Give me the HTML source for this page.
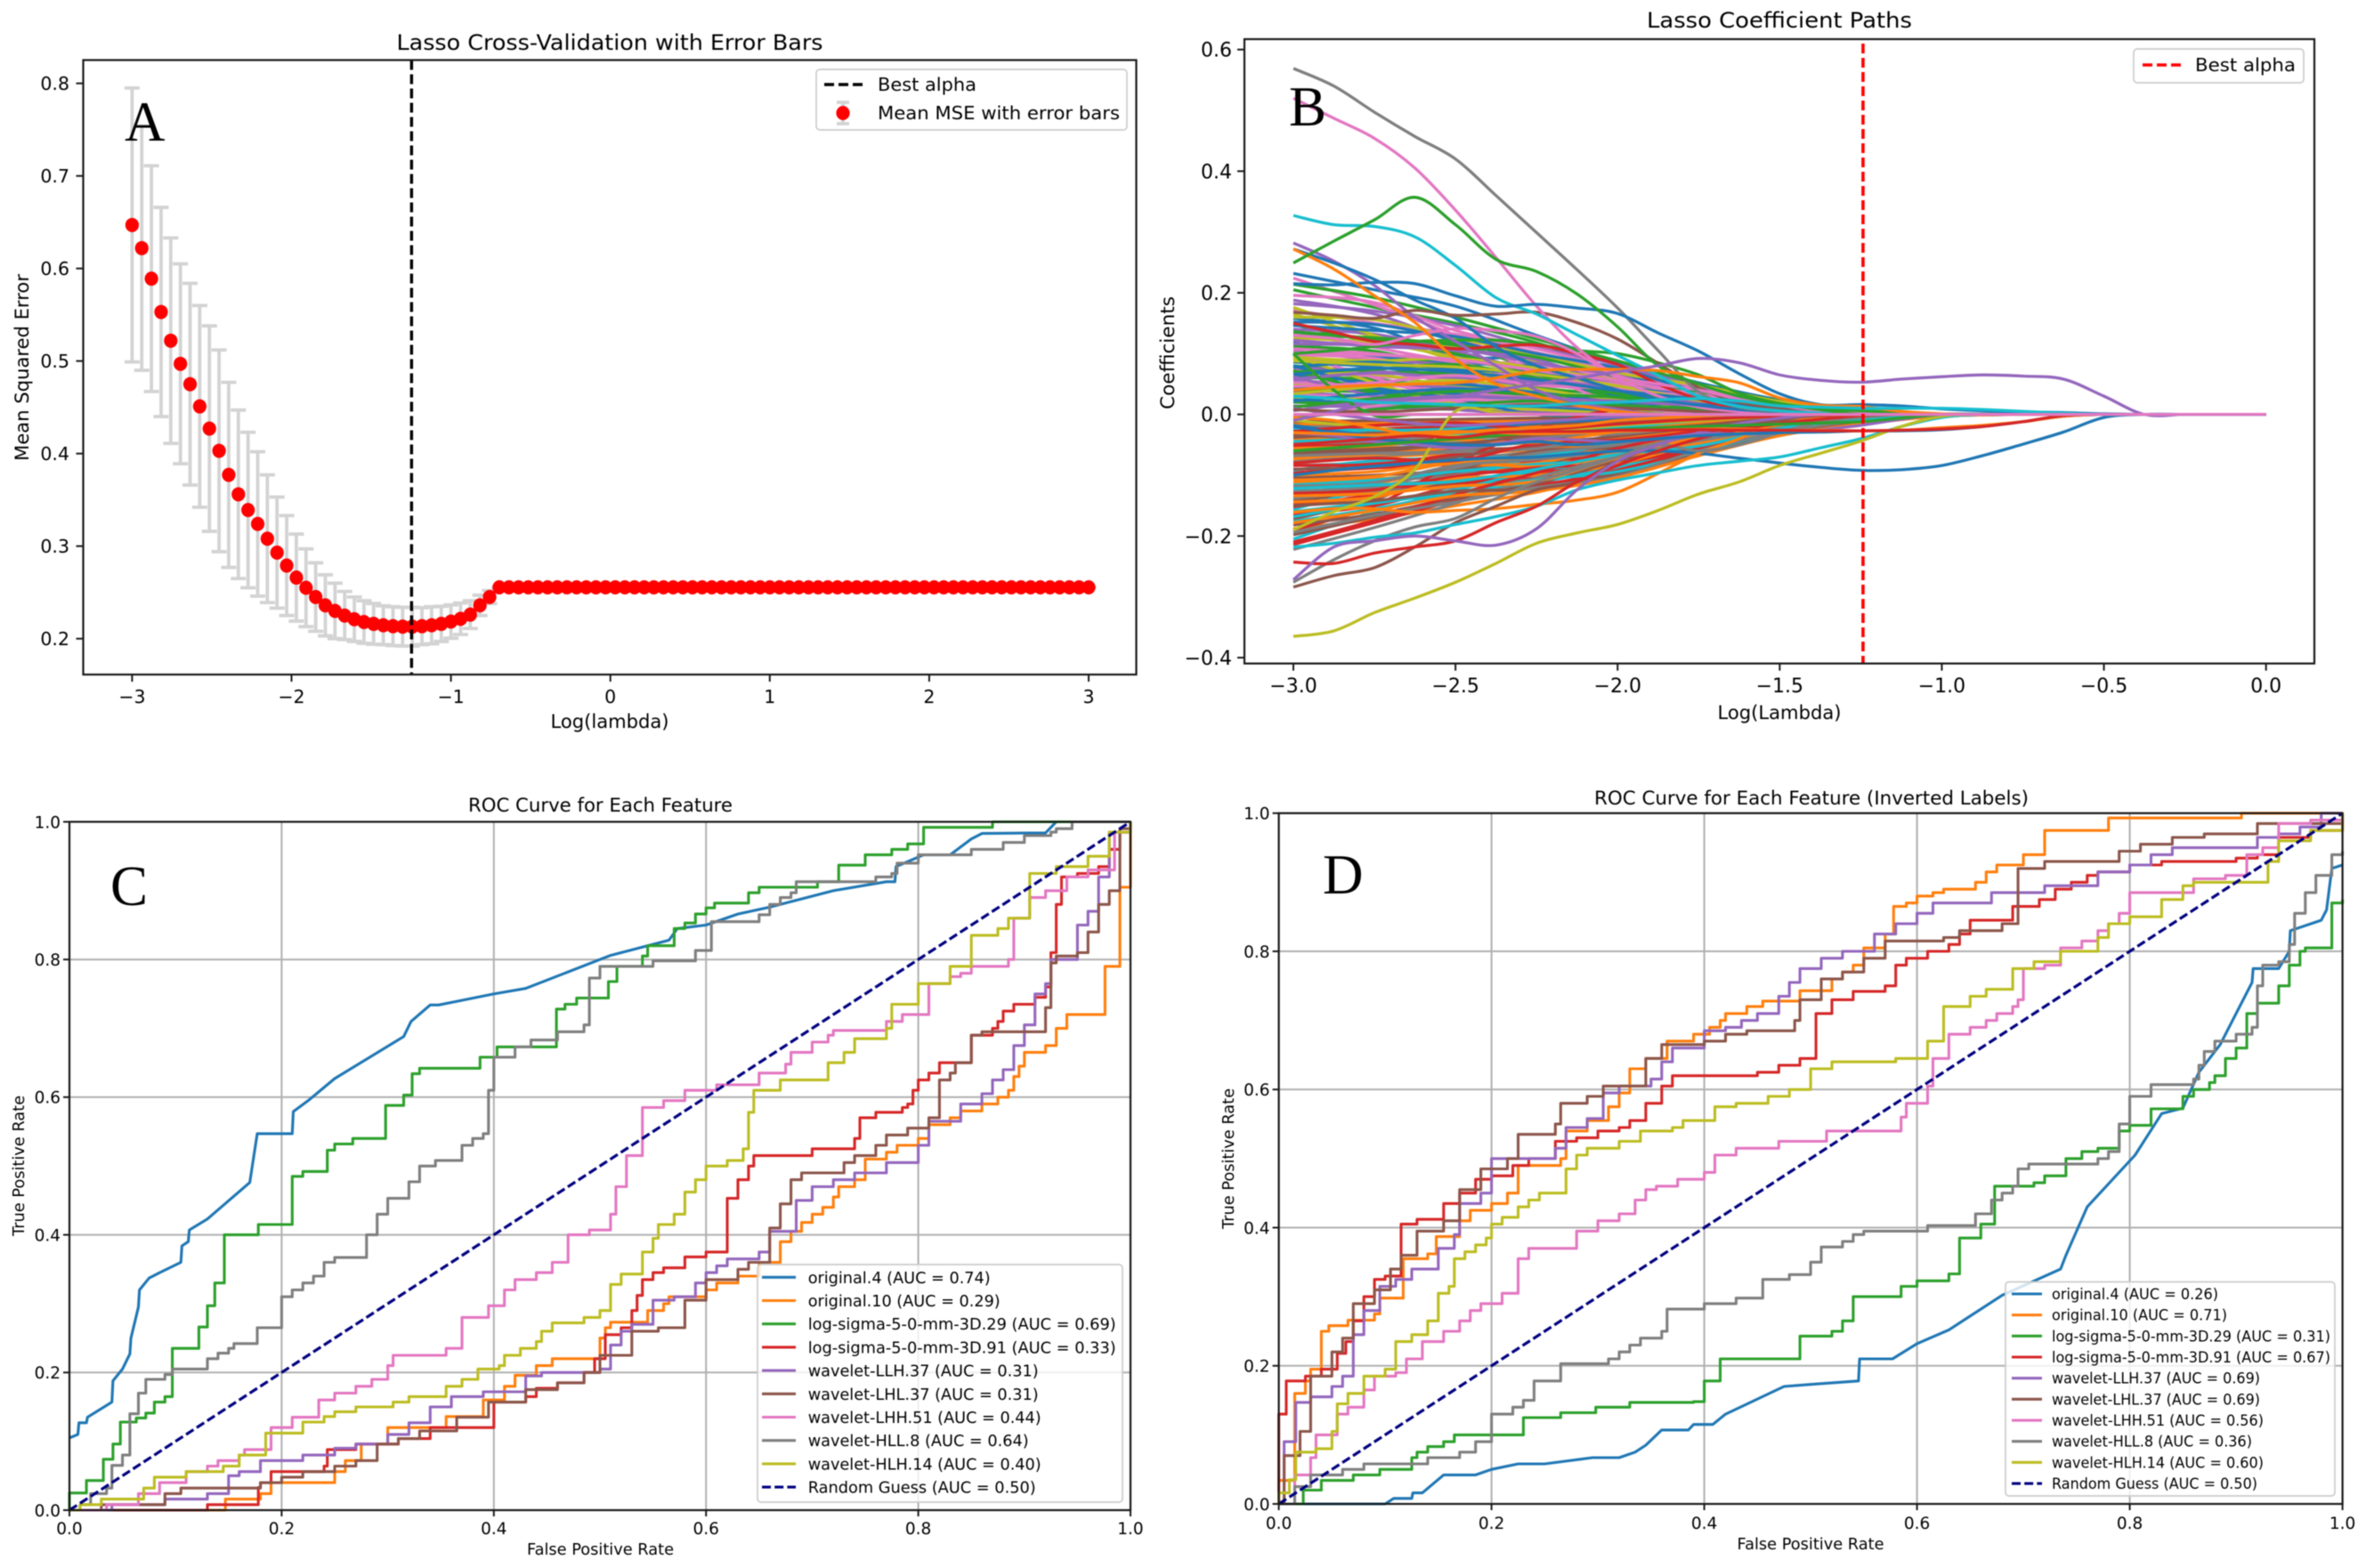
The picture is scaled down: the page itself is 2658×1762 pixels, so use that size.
<!DOCTYPE html>
<html lang="en">
<head>
<meta charset="utf-8">
<title>Lasso and ROC panels</title>
<style>
html,body{margin:0;padding:0;background:#fff;}
svg{display:block;filter:blur(0.55px);}
text{font-family:"DejaVu Sans","Liberation Sans",sans-serif;fill:#000;}
.letter{font-family:"Liberation Serif",serif;}
</style>
</head>
<body>
<svg id="figure" xmlns="http://www.w3.org/2000/svg" width="2658" height="1762" viewBox="0 0 2658 1762">
<rect x="0" y="0" width="2658" height="1762" fill="#fff"/>
</svg>
<script>
/* ---------- Panel A data ---------- */
const cvXTicks = [-3,-2,-1,0,1,2,3];
const cvYTicks = [0.2,0.3,0.4,0.5,0.6,0.7,0.8];
const cvBestLogLambda = -1.247;
const cvMeanMse = [.647,.622,.589,.553,.522,.497,.475,.451,.427,.403,.377,.356,.339,.324,.308,.293,.279,.266,.255,.245,.236,.230,.225,.221,.218,.216,.2145,.2135,.213,.213,.2135,.2145,.216,.2185,.2215,.226,.236,.245,.2555,
.2555,.2555,.2555,.2555,.2555,.2555,.2555,.2555,.2555,.2555,.2555,.2555,.2555,.2555,.2555,.2555,.2555,.2555,.2555,.2555,.2555,.2555,.2555,.2555,.2555,.2555,.2555,.2555,.2555,.2555,.2555,.2555,.2555,.2555,.2555,.2555,.2555,.2555,.2555,.2555,.2555,.2555,.2555,.2555,.2555,.2555,.2555,.2555,.2555,.2555,.2555,.2555,.2555,.2555,.2555,.2555,.2555,.2555,.2555,.2555,.2555];
const cvErr = [.148,.132,.122,.113,.111,.108,.109,.109,.111,.109,.100,.091,.084,.078,.069,.060,.054,.047,.042,.037,.033,.030,.026,.024,.023,.022,.021,.021,.021,.021,.020,.020,.019,.018,.017,.015,.011,.007];

/* ---------- Panel B data ---------- */
const pathXTicks = [-3,-2.5,-2,-1.5,-1,-0.5,0];
const pathYTicks = [-0.4,-0.2,0,0.2,0.4,0.6];
const pathBestLogLambda = -1.243;
const tab10 = ['#1f77b4','#ff7f0e','#2ca02c','#d62728','#9467bd','#8c564b','#e377c2','#7f7f7f','#bcbd22','#17becf'];
const coarseGrid = [-3,-2.75,-2.5,-2.25,-2,-1.75,-1.5,-1.25,-1,-0.75,-0.5,-0.25,0];
const fineGrid = [-3,-2.875,-2.75,-2.625,-2.5,-2.375,-2.25,-2.125,-2,-1.875,-1.75,-1.625,-1.5,-1.375,-1.25,-1.125,-1,-0.875,-0.75,-0.625,-0.5,-0.375,-0.25,-0.125,0];
/* coefficient estimates in thousandths; omitted trailing knots are zero */
const fanCoefs = [
[232,205,178,130,85,52,24,8],[-188,-172,-150,-128,-95,-62,-30,-14,-2],[205,176,150,118,72,40,18,6],[-165,-150,-118,-102,-88,-55,-28,-12,-1],
[188,165,120,96,78,44,20,7],[-142,-128,-112,-98,-70,-46,-26,-10],[172,150,132,102,70,36,12,3],[-128,-118,-104,-78,-72,-40,-22,-8],
[165,128,110,86,60,30,12],[-205,-160,-125,-90,-62,-38,-20,-7],[158,142,96,92,66,34,14,4],[-112,-106,-96,-85,-60,-44,-24,-11],
[148,120,116,74,52,26,10],[-96,-88,-82,-76,-66,-36,-18,-6],[140,132,104,70,44,32,16,5],[-172,-140,-92,-84,-50,-34,-16,-9],
[134,110,88,82,58,24,8],[-84,-80,-74,-62,-56,-30,-20,-5],[126,118,94,64,48,28,11,3],[-156,-122,-108,-70,-64,-42,-25,-13,-3],
[118,96,84,78,40,22,9],[-74,-70,-64,-58,-46,-32,-14,-4],[112,104,76,60,54,18,6],[-148,-134,-98,-94,-76,-48,-24,-10],
[104,90,80,52,36,20,7],[-66,-60,-58,-54,-42,-26,-12,-3],[98,92,68,62,30,16,4],[-136,-110,-100,-66,-58,-36,-17,-7],
[92,84,72,48,42,14,5],[-58,-56,-50,-44,-38,-24,-15,-5],[86,78,62,56,28,12,3],[-120,-114,-86,-80,-52,-40,-22,-9],
[80,70,66,44,32,18,6],[-52,-48,-44,-40,-30,-22,-10,-2],[76,72,54,50,38,10],[-104,-100,-90,-60,-54,-28,-19,-8],
[72,62,58,36,24,13,4],[-46,-42,-40,-32,-28,-18,-8],[68,66,46,42,20,8],[-92,-76,-72,-68,-48,-34,-13,-6],
[64,54,50,38,26,15],[-42,-36,-34,-30,-22,-16,-11,-4],[60,58,40,34,16,6],[-84,-82,-66,-52,-44,-26,-16,-7],
[56,48,44,28,22,9],[-36,-32,-28,-26,-20,-14,-7],[52,50,36,30,12,5],[-78,-68,-62,-56,-34,-20,-12,-5],
[48,44,30,24,18,7],[-30,-28,-26,-22,-16,-10,-6],[44,40,34,18,10,4],[-70,-66,-54,-46,-40,-24,-14,-6],
[40,36,24,22,14,6],[-26,-24,-20,-18,-12,-8,-5],[36,30,28,14,8,3],[-64,-56,-52,-42,-30,-18,-9,-3],
[32,28,18,16,10],[-20,-18,-16,-14,-10,-7,-4],[28,24,20,10,6],[-60,-50,-46,-36,-26,-17,-10,-4],
[24,18,14,12,4],[-16,-14,-12,-10,-8,-5],[20,16,12,6],[-54,-46,-38,-34,-24,-12,-8,-3],
[14,12,8,4],[-12,-10,-8,-6,-4],[100,60,22,0],[-48,-44,-34,-28,-18,-14,-6,-2],
[96,52,14,8,2],[-44,-38,-32,-24,-22,-11,-5],[80,44,26,0],[-40,-34,-30,-20,-14,-9,-4],
[72,38,10,0],[-190,-150,-80,-24,8,2],[62,30,8,2],[-38,-30,-22,-16,-12,-6],
[224,180,130,70,18,2],[-126,-120,-88,-64,-50,-32,-18,-8],[176,130,88,40,6],[-116,-108,-94,-82,-74,-50,-27,-12],
[152,148,122,80,30,4],[-100,-94,-78,-72,-62,-42,-21,-9],[136,124,100,66,34,10],[-152,-132,-116,-96,-84,-52,-29,-13],
[122,112,106,90,46,16,4],[-90,-86,-70,-50,-36,-22,-11,-4],[108,100,86,58,50,24,8],[-138,-126,-120,-106,-90,-58,-31,-14,-2],
[94,88,92,76,56,38,15,3],[-176,-155,-130,-112,-86,-54,-26,-11],[78,86,74,68,46,30,13,2],[-108,-102,-80,-86,-68,-38,-19,-7],
[70,74,82,60,34,26,12,3],[-80,-72,-76,-48,-42,-28,-13,-4],[58,68,60,54,44,20,9,2],[-198,-168,-136,-116,-98,-60,-33,-15,-3],
[46,52,64,48,42,28,10],[-68,-64,-60,-38,-32,-20,-9,-3],[34,46,56,40,24,12,5],[-160,-144,-124,-92,-78,-44,-23,-10],
[22,34,42,36,20,16,6],[-56,-52,-42,-46,-28,-15,-8],[12,26,38,32,28,10,3],[-130,-124,-102,-88,-80,-56,-30,-12],
[6,22,30,26,22,14,5],[-34,-40,-48,-34,-26,-18,-6],[-4,14,24,20,12,8,2],[-118,-112,-84,-74,-60,-34,-17,-6],
[-10,-22,-36,-30,-18,-10,-3],[-24,-26,-24,-12,-6,-2],[-18,-34,-28,-14,-8,-4],[-144,-136,-106,-100,-82,-46,-20,-8],
[214,192,160,124,88,50,22,7],[-214,-178,-142,-118,-92,-56,-27,-11],[182,170,146,110,82,46,19,6],[-182,-164,-138,-114,-76,-50,-25,-10],
[196,184,138,108,74,42,17,5],[-222,-186,-146,-104,-70,-44,-22,-9],[160,156,126,98,68,48,21,8],[-168,-146,-128,-108,-94,-64,-32,-15],
[146,138,128,100,76,38,16,4],[-134,-130,-118,-110,-72,-48,-28,-12,-2],[130,126,114,94,62,35,14,3],[-210,-174,-132,-96,-56,-30,-15,-5],
[116,114,108,84,64,27,11],[-150,-142,-126,-122,-100,-66,-34,-13],[102,98,90,72,55,33,15,4],[-194,-166,-144,-120,-102,-60,-29,-10],
[88,82,78,66,47,23,10],[-122,-116,-110,-90,-66,-52,-23,-8],[66,76,70,57,39,25,7],[-178,-158,-134,-126,-104,-68,-35,-16,-3],
[-6,8,16,22,15,9,3],[-28,-18,-14,-24,-16,-8,-3],[10,-8,-18,-12,-4,-2],[8,4,10,16,11,5]
];
const hlGray = [569,540,497,457,420,360,299,238,175,105,37,12,5,2];
const hlPink = [520,487,454,405,336,258,178,110,64,50,40,25,15,5];
const hlGreen = [249,285,320,357,312,255,235,198,144,80,50,30,17,8];
const hlCyan = [327,312,309,292,245,192,165,131,97,64,30,13,6,2];
const hlBlueHigh = [215,213,217,215,195,178,181,175,166,134,104,67,34,16,16,14,9,6,4,3,1];
const hlBlueFall = [272,249,222,188,158,111,80,60,40,25,15,8,4];
const hlBrown = [168,163,158,171,163,165,168,151,124,84,44,20,10,3];
const hlPurpleSurvivor = [-10,5,20,25,30,40,50,60,70,80,92,85,65,56,53,58,62,65,63,58,30,0];
const hlOlive = [-365,-356,-326,-302,-276,-245,-212,-195,-181,-158,-131,-111,-84,-64,-44,-20,-3];
const hlBlueNeg = [-100,-92,-85,-80,-75,-72,-70,-65,-60,-60,-64,-72,-80,-87,-92,-91,-84,-68,-49,-29,-5];
const hlCyanNeg = [-218,-212,-202,-195,-181,-168,-151,-124,-108,-96,-84,-77,-70,-55,-40,-20,-5];
const hlOrangeNeg = [-161,-155,-155,-161,-158,-155,-148,-141,-128,-97,-64,-40,-10];
const hlPurpleNeg = [-272,-218,-208,-200,-208,-215,-188,-124,-77,-50,-30,-15,-6];
const hlRedNeg = [-243,-245,-228,-218,-208,-178,-151,-111,-84,-60,-40,-25,-15,-8,-2];
const hlBrownNeg = [-284,-265,-252,-218,-178,-151,-124,-111,-77,-50,-30,-20,-10];
const hlGrayNeg = [-276,-239,-208,-185,-171,-138,-111,-91,-70,-50,-60,-50,-30,-12,-5];
const hlOrangeTop = [272,239,195,151,91,50,30,15,5];
const hlOrangeBand = [40,45,48,50,52,60,72,74,74,72,62,52,27,15,13,5,1];
const hlPurpleTop = [282,252,212,160,120,80,40,20,8];
const hlRedHump = [150,135,120,115,108,112,114,100,82,50,25,10,4];
const hlPinkBand = [130,125,115,130,141,138,128,100,60,30,12,5];
const hlGreenFall = [100,40,-2];
const hlOliveCross = [-190,-160,-135,-90,5,3];
const hlOrangeDip = [-5,-10,-22,-34,-30,-25,-22,-18,-10,-6,-3];
const hlOrangeTail = [-30,-32,-34,-30,-28,-30,-32,-30,-28,-26,-24,-24,-26,-26,-27,-26,-22,-18,-12,-3];
const hlGreenBand = [100,105,112,120,122,122,115,105,100,85,65,35,18,10,6,3];
const hlCyanTail = [30,26,20,18,16,14,14,18,20,24,26,22,14,12,10,10,10,8,5,2];
const hlBlueTail = [-20,-30,-40,-45,-50,-50,-45,-50,-45,-40,-35,-32,-30,-29,-27,-27,-25,-20,-12,-3];
const hlPurpleTail = [-30,-35,-45,-50,-55,-48,-40,-42,-45,-40,-32,-32,-30,-25,-18,-8,0];
const hlGreenTail = [-60,-55,-50,-45,-40,-35,-30,-28,-25,-22,-20,-18,-16,-14,-12,-6,0];
const hlRedTail = [-50,-45,-40,-35,-38,-30,-28,-28,-26,-26,-25,-26,-26,-27,-27,-26,-24,-20,-12,-2];
const hlZero = [0];

/* ---------- Panel C data ---------- */
const rocTicks = [0,0.2,0.4,0.6,0.8,1];
const cOriginal4 = [[0,.105],[.008,.11],[.009,.127],[.016,.127],[.017,.135],[.04,.157],[.041,.188],[.05,.205],[.057,.227],[.058,.25],[.065,.295],[.066,.32],[.075,.337],[.085,.345],[.105,.36],[.106,.384],[.112,.39],[.113,.407],[.13,.423],[.17,.476],[.177,.547],[.21,.547],[.211,.579],[.225,.595],[.25,.627],[.315,.688],[.322,.71],[.34,.734],[.348,.734],[.4,.75],[.43,.758],[.51,.806],[.565,.828],[.573,.845],[.6,.85],[.63,.866],[.66,.876],[.72,.9],[.77,.913],[.778,.913],[.779,.935],[.805,.952],[.83,.952],[.85,.975],[.86,.983],[.92,.984],[.93,1],[1,1]];
const cOriginal10 = [[.147,.016],[.18,.024],[.19,.04],[.25,.056],[.26,.072],[.275,.096],[.3,.12],[.355,.136],[.39,.16],[.41,.18],[.42,.196],[.44,.21],[.455,.22],[.5,.25],[.505,.265],[.51,.273],[.53,.273],[.545,.29],[.56,.3],[.565,.31],[.6,.32],[.61,.33],[.63,.34],[.65,.36],[.67,.39],[.68,.405],[.69,.418],[.7,.43],[.71,.44],[.72,.455],[.725,.47],[.74,.48],[.75,.51],[.77,.52],[.78,.53],[.8,.54],[.81,.56],[.83,.57],[.84,.58],[.86,.59],[.875,.6],[.885,.61],[.89,.63],[.895,.645],[.9,.665],[.92,.675],[.93,.7],[.94,.72],[.976,.79],[.99,.905],[1,1]];
const cLogSigma29 = [[0,.025],[.016,.043],[.032,.074],[.041,.096],[.048,.128],[.063,.134],[.072,.141],[.08,.157],[.09,.165],[.097,.235],[.122,.266],[.13,.297],[.137,.33],[.146,.4],[.178,.415],[.21,.485],[.22,.492],[.243,.523],[.25,.532],[.267,.54],[.298,.588],[.315,.603],[.323,.634],[.33,.642],[.387,.658],[.403,.673],[.459,.728],[.467,.735],[.478,.744],[.508,.768],[.516,.79],[.54,.805],[.545,.82],[.57,.845],[.58,.853],[.59,.866],[.6,.875],[.608,.882],[.64,.897],[.65,.905],[.705,.913],[.725,.937],[.75,.952],[.775,.96],[.79,.968],[.805,.992],[.87,1],[1,1]];
const cLogSigma91 = [[.13,.008],[.178,.033],[.18,.04],[.19,.056],[.24,.064],[.243,.088],[.27,.096],[.31,.104],[.34,.12],[.4,.157],[.43,.165],[.44,.177],[.46,.185],[.485,.2],[.495,.22],[.505,.255],[.52,.265],[.53,.29],[.535,.312],[.54,.335],[.55,.345],[.56,.352],[.58,.368],[.6,.375],[.62,.453],[.63,.48],[.64,.5],[.645,.515],[.7,.525],[.74,.54],[.745,.57],[.76,.578],[.785,.585],[.79,.59],[.795,.61],[.8,.625],[.81,.635],[.82,.65],[.84,.65],[.85,.69],[.87,.7],[.875,.71],[.88,.725],[.89,.735],[.91,.745],[.92,.76],[.925,.81],[.93,.88],[.935,.92],[.95,.925],[.97,.935],[.98,.96],[.99,.985],[1,1]];
const cLlh37 = [[.04,.008],[.09,.016],[.13,.024],[.15,.05],[.16,.056],[.18,.072],[.22,.08],[.25,.09],[.27,.096],[.3,.11],[.32,.127],[.34,.15],[.36,.165],[.39,.172],[.43,.195],[.445,.2],[.5,.205],[.51,.24],[.52,.26],[.53,.27],[.55,.305],[.57,.31],[.59,.33],[.6,.345],[.61,.355],[.62,.365],[.65,.375],[.66,.405],[.685,.45],[.7,.47],[.72,.48],[.74,.49],[.77,.505],[.8,.53],[.81,.565],[.84,.59],[.86,.605],[.87,.625],[.88,.64],[.89,.675],[.9,.705],[.91,.75],[.92,.765],[.925,.8],[.95,.85],[.96,.87],[.97,.92],[.98,.985],[1,1]];
const cLhl37 = [[.03,.008],[.09,.024],[.105,.032],[.18,.04],[.2,.048],[.22,.056],[.25,.064],[.27,.072],[.29,.096],[.31,.104],[.33,.115],[.365,.135],[.395,.157],[.43,.175],[.46,.185],[.485,.2],[.5,.225],[.53,.26],[.555,.265],[.58,.305],[.6,.335],[.63,.35],[.64,.36],[.66,.41],[.67,.445],[.68,.48],[.69,.49],[.73,.505],[.74,.515],[.76,.53],[.77,.545],[.79,.555],[.81,.57],[.82,.625],[.83,.635],[.835,.65],[.85,.69],[.86,.695],[.92,.73],[.925,.795],[.93,.805],[.95,.81],[.96,.84],[.97,.88],[.98,.9],[.99,.99],[1,1]];
const cLhh51 = [[.035,.008],[.065,.024],[.085,.04],[.11,.056],[.13,.064],[.14,.072],[.16,.08],[.165,.088],[.19,.12],[.21,.135],[.235,.16],[.25,.17],[.27,.18],[.285,.19],[.3,.21],[.305,.225],[.355,.235],[.37,.28],[.395,.297],[.41,.32],[.42,.335],[.44,.345],[.455,.36],[.47,.4],[.49,.407],[.51,.43],[.515,.47],[.525,.515],[.54,.585],[.56,.595],[.58,.61],[.61,.618],[.65,.635],[.675,.648],[.68,.665],[.7,.68],[.715,.69],[.72,.697],[.77,.71],[.785,.72],[.81,.765],[.83,.775],[.84,.78],[.85,.79],[.885,.8],[.89,.86],[.905,.89],[.92,.9],[.94,.92],[.96,.93],[.985,.985],[1,1]];
const cHll8 = [[.01,.008],[.02,.024],[.035,.032],[.04,.065],[.05,.08],[.057,.14],[.065,.17],[.072,.19],[.09,.197],[.097,.205],[.13,.22],[.14,.228],[.15,.235],[.155,.242],[.177,.265],[.2,.31],[.21,.32],[.22,.33],[.23,.34],[.24,.36],[.25,.367],[.28,.4],[.29,.43],[.3,.453],[.32,.477],[.33,.5],[.345,.508],[.37,.53],[.38,.54],[.39,.547],[.395,.61],[.4,.658],[.42,.673],[.435,.683],[.46,.695],[.485,.705],[.49,.773],[.5,.79],[.55,.798],[.59,.813],[.605,.855],[.65,.865],[.66,.88],[.67,.89],[.68,.897],[.685,.913],[.76,.92],[.775,.925],[.78,.94],[.8,.952],[.85,.96],[.88,.97],[.9,.98],[.925,.985],[.93,.99],[.945,1],[1,1]];
const cHlh14 = [[.01,.008],[.03,.016],[.07,.032],[.08,.048],[.11,.056],[.145,.064],[.16,.08],[.185,.112],[.22,.128],[.24,.136],[.25,.143],[.27,.15],[.305,.157],[.32,.165],[.355,.18],[.37,.19],[.385,.205],[.405,.21],[.41,.225],[.425,.235],[.44,.245],[.445,.26],[.455,.272],[.485,.28],[.5,.29],[.51,.328],[.52,.343],[.54,.375],[.55,.395],[.555,.415],[.57,.43],[.58,.462],[.59,.48],[.6,.5],[.62,.508],[.635,.525],[.64,.578],[.645,.61],[.67,.625],[.715,.65],[.73,.665],[.74,.685],[.77,.7],[.775,.735],[.8,.765],[.83,.79],[.85,.835],[.875,.845],[.885,.86],[.905,.925],[.93,.935],[.96,.95],[.98,.985],[1,1]];

/* ---------- Panel D data ---------- */
const dOriginal4 = [[0,0],[.1,0],[.108,.008],[.125,.008],[.126,.016],[.135,.016],[.155,.042],[.185,.042],[.2,.05],[.225,.058],[.25,.058],[.295,.067],[.32,.067],[.335,.075],[.345,.085],[.36,.107],[.385,.107],[.39,.115],[.408,.115],[.42,.13],[.475,.17],[.5,.173],[.545,.178],[.546,.21],[.577,.21],[.6,.232],[.63,.252],[.68,.302],[.735,.34],[.74,.36],[.76,.43],[.805,.505],[.83,.565],[.85,.573],[.865,.625],[.885,.665],[.915,.755],[.916,.775],[.94,.775],[.95,.8],[.951,.83],[.98,.845],[.985,.86],[.99,.92],[1,.925]];
const dOriginal10 = [[0,.034],[.015,.16],[.025,.178],[.03,.195],[.04,.25],[.047,.258],[.06,.258],[.065,.266],[.09,.275],[.095,.298],[.115,.298],[.117,.355],[.14,.362],[.148,.387],[.17,.41],[.18,.425],[.2,.435],[.215,.45],[.225,.49],[.265,.5],[.27,.54],[.29,.555],[.31,.575],[.32,.595],[.33,.63],[.345,.645],[.365,.67],[.39,.68],[.405,.69],[.415,.7],[.42,.71],[.44,.72],[.455,.728],[.49,.743],[.52,.76],[.53,.77],[.54,.78],[.55,.805],[.57,.825],[.578,.865],[.59,.87],[.6,.88],[.615,.885],[.625,.89],[.655,.9],[.665,.915],[.675,.925],[.7,.94],[.72,.975],[.78,.993],[.905,1],[1,1]];
const dLogSigma29 = [[.023,.02],[.04,.034],[.07,.042],[.095,.05],[.125,.067],[.13,.075],[.14,.083],[.155,.09],[.165,.1],[.2,.1],[.23,.125],[.265,.132],[.298,.14],[.33,.147],[.39,.148],[.4,.178],[.415,.21],[.485,.21],[.49,.243],[.52,.25],[.53,.265],[.54,.3],[.585,.315],[.6,.323],[.63,.333],[.64,.385],[.66,.405],[.673,.46],[.71,.465],[.72,.475],[.74,.5],[.755,.51],[.77,.515],[.79,.54],[.8,.548],[.82,.572],[.85,.59],[.86,.6],[.875,.61],[.88,.62],[.89,.645],[.9,.66],[.91,.71],[.92,.725],[.94,.75],[.95,.78],[.96,.8],[.965,.805],[.99,.87],[1,.875]];
const dLogSigma91 = [[0,.13],[.007,.178],[.025,.185],[.04,.195],[.055,.218],[.063,.235],[.07,.265],[.08,.3],[.09,.325],[.1,.33],[.115,.405],[.13,.412],[.155,.435],[.17,.45],[.185,.47],[.2,.475],[.22,.49],[.235,.5],[.26,.525],[.28,.53],[.3,.54],[.32,.545],[.33,.555],[.345,.58],[.36,.605],[.37,.62],[.45,.625],[.47,.635],[.49,.645],[.505,.71],[.52,.73],[.54,.742],[.57,.75],[.58,.78],[.59,.79],[.61,.8],[.63,.81],[.64,.825],[.65,.845],[.68,.845],[.69,.865],[.715,.875],[.73,.89],[.745,.9],[.76,.91],[.77,.915],[.8,.925],[.83,.93],[.9,.935],[.92,.94],[.94,.965],[.97,.975],[1,.99]];
const dLlh37 = [[.005,.09],[.016,.147],[.03,.155],[.05,.17],[.06,.185],[.07,.245],[.08,.28],[.095,.315],[.11,.325],[.125,.34],[.15,.37],[.165,.39],[.17,.435],[.19,.45],[.2,.5],[.26,.515],[.27,.545],[.29,.558],[.305,.595],[.32,.605],[.35,.615],[.36,.64],[.37,.66],[.4,.685],[.42,.69],[.435,.7],[.45,.71],[.47,.735],[.48,.755],[.49,.775],[.51,.79],[.53,.8],[.56,.825],[.58,.84],[.6,.855],[.615,.87],[.67,.885],[.72,.895],[.77,.915],[.8,.925],[.82,.94],[.84,.95],[.92,.965],[.94,.97],[.96,.98],[.98,1],[1,1]];
const dLhl37 = [[.005,.07],[.02,.105],[.03,.185],[.05,.22],[.06,.24],[.07,.29],[.09,.31],[.105,.34],[.115,.36],[.13,.395],[.155,.41],[.17,.455],[.19,.485],[.215,.5],[.225,.535],[.26,.55],[.265,.58],[.29,.59],[.305,.605],[.345,.645],[.36,.665],[.4,.67],[.42,.68],[.44,.685],[.485,.7],[.49,.73],[.51,.76],[.53,.77],[.55,.79],[.57,.815],[.625,.82],[.64,.83],[.68,.84],[.695,.92],[.72,.93],[.79,.945],[.81,.955],[.84,.965],[.87,.97],[.92,.985],[1,1]];
const dLhh51 = [[.015,.042],[.03,.067],[.035,.1],[.055,.13],[.065,.14],[.08,.165],[.09,.185],[.11,.19],[.12,.21],[.135,.235],[.155,.25],[.17,.265],[.18,.28],[.19,.29],[.21,.305],[.225,.355],[.235,.37],[.28,.395],[.3,.41],[.32,.42],[.335,.44],[.345,.455],[.355,.46],[.375,.47],[.4,.48],[.41,.505],[.43,.515],[.47,.525],[.515,.54],[.585,.56],[.59,.58],[.61,.605],[.615,.645],[.63,.68],[.65,.69],[.665,.7],[.675,.71],[.69,.72],[.695,.73],[.7,.775],[.72,.78],[.735,.805],[.755,.815],[.77,.83],[.78,.84],[.79,.855],[.8,.885],[.86,.905],[.89,.91],[.91,.94],[.925,.95],[.94,.985],[.97,.99],[1,1]];
const dHll8 = [[.015,.025],[.03,.042],[.06,.05],[.08,.058],[.14,.067],[.17,.075],[.185,.09],[.2,.13],[.22,.14],[.23,.15],[.24,.178],[.265,.203],[.31,.21],[.32,.22],[.33,.23],[.34,.24],[.36,.25],[.365,.282],[.4,.29],[.43,.298],[.455,.325],[.48,.332],[.5,.35],[.51,.372],[.53,.38],[.54,.39],[.55,.395],[.61,.403],[.655,.42],[.67,.44],[.68,.45],[.69,.46],[.695,.485],[.705,.492],[.77,.5],[.78,.51],[.79,.55],[.8,.59],[.82,.607],[.86,.615],[.865,.635],[.87,.655],[.88,.67],[.9,.68],[.915,.69],[.92,.75],[.925,.78],[.94,.785],[.95,.81],[.955,.855],[.965,.885],[.975,.91],[.99,.94],[1,.945]];
const dHlh14 = [[0,.016],[.01,.035],[.016,.075],[.035,.08],[.05,.105],[.055,.145],[.065,.16],[.08,.185],[.1,.195],[.11,.235],[.125,.245],[.14,.265],[.15,.305],[.16,.315],[.165,.355],[.175,.365],[.185,.375],[.195,.385],[.2,.405],[.21,.415],[.225,.43],[.235,.44],[.245,.45],[.27,.485],[.28,.505],[.29,.515],[.32,.525],[.34,.54],[.37,.545],[.38,.555],[.41,.575],[.43,.58],[.46,.59],[.48,.6],[.5,.63],[.52,.64],[.58,.645],[.61,.67],[.625,.72],[.65,.735],[.665,.745],[.69,.775],[.71,.785],[.735,.8],[.77,.82],[.78,.84],[.8,.85],[.83,.875],[.85,.895],[.86,.9],[.93,.93],[.94,.96],[.97,.975],[1,1]];

/* ---------- Legend labels ---------- */
const cLegendLabels = ['original.4 (AUC = 0.74)','original.10 (AUC = 0.29)','log-sigma-5-0-mm-3D.29 (AUC = 0.69)','log-sigma-5-0-mm-3D.91 (AUC = 0.33)','wavelet-LLH.37 (AUC = 0.31)','wavelet-LHL.37 (AUC = 0.31)','wavelet-LHH.51 (AUC = 0.44)','wavelet-HLL.8 (AUC = 0.64)','wavelet-HLH.14 (AUC = 0.40)','Random Guess (AUC = 0.50)'];
const dLegendLabels = ['original.4 (AUC = 0.26)','original.10 (AUC = 0.71)','log-sigma-5-0-mm-3D.29 (AUC = 0.31)','log-sigma-5-0-mm-3D.91 (AUC = 0.67)','wavelet-LLH.37 (AUC = 0.69)','wavelet-LHL.37 (AUC = 0.69)','wavelet-LHH.51 (AUC = 0.56)','wavelet-HLL.8 (AUC = 0.36)','wavelet-HLH.14 (AUC = 0.60)','Random Guess (AUC = 0.50)'];
const cLegendWidths = [205,216,346,346,259,259,262,248,262,256];
const dLegendWidths = [187,197,313,313,234,234,238,225,238,231];

/* ---------- Drawing helpers ---------- */
const NS = 'http://www.w3.org/2000/svg';
const figure = document.getElementById('figure');
function make(tag, attrs, parent) {
  const node = document.createElementNS(NS, tag);
  for (const k in attrs) node.setAttribute(k, attrs[k]);
  (parent || figure).appendChild(node);
  return node;
}
function scale(d0, d1, r0, r1) { return v => r0 + (v - d0) * (r1 - r0) / (d1 - d0); }
function fmt(v, digits) { return v.toFixed(digits).replace('-', '\u2212'); }
function textAt(parent, str, x, y, size, opts) {
  opts = opts || {};
  const a = { x: x, y: y, 'font-size': size, 'text-anchor': opts.anchor || 'start' };
  if (opts.len) { a.textLength = opts.len; a.lengthAdjust = 'spacingAndGlyphs'; }
  if (opts.rotate) a.transform = 'rotate(-90 ' + x + ' ' + y + ')';
  if (opts.cls) a.class = opts.cls;
  const t = make('text', a, parent);
  t.textContent = str;
  return t;
}
function spines(g, box) {
  const r = make('rect', { x: box.l, y: box.t, width: box.r - box.l, height: box.b - box.t, fill: 'none', stroke: '#1a1a1a', 'stroke-width': 2.2 }, g);
  
  
}
function xAxis(g, ticks, xs, box, digits, size, labelY, tickLen) {
  ticks.forEach(v => {
    const m = make('line', { x1: xs(v), x2: xs(v), y1: box.b, y2: box.b + tickLen, stroke: '#1a1a1a', 'stroke-width': 2 }, g);
    
    
    const t = textAt(g, fmt(v, digits), xs(v), labelY, size, { anchor: 'middle' });
    
    
  });
}
function yAxis(g, ticks, ys, box, digits, size, labelRight, tickLen) {
  ticks.forEach(v => {
    const m = make('line', { x1: box.l - tickLen, x2: box.l, y1: ys(v), y2: ys(v), stroke: '#1a1a1a', 'stroke-width': 2 }, g);
    
    
    const t = textAt(g, fmt(v, digits), labelRight, ys(v) + size * 0.365, size, { anchor: 'end' });
    
    
  });
}
function smoothPath(grid, vals, xs, ys) {
  const pts = grid.map((g, i) => [xs(g), ys((vals[i] === undefined ? 0 : vals[i]) / 1000)]);
  let d = 'M' + pts[0][0].toFixed(1) + ' ' + pts[0][1].toFixed(1);
  for (let i = 0; i < pts.length - 1; i++) {
    const p0 = pts[Math.max(i - 1, 0)], p1 = pts[i], p2 = pts[i + 1], p3 = pts[Math.min(i + 2, pts.length - 1)];
    const c1x = p1[0] + (p2[0] - p0[0]) / 6, c1y = p1[1] + (p2[1] - p0[1]) / 6;
    const c2x = p2[0] - (p3[0] - p1[0]) / 6, c2y = p2[1] - (p3[1] - p1[1]) / 6;
    d += 'C' + c1x.toFixed(1) + ' ' + c1y.toFixed(1) + ' ' + c2x.toFixed(1) + ' ' + c2y.toFixed(1) + ' ' + p2[0].toFixed(1) + ' ' + p2[1].toFixed(1);
  }
  return d;
}
function stepPath(pts, xs, ys) {
  let py = 0;
  let d = 'M' + xs(0).toFixed(1) + ' ' + ys(0).toFixed(1);
  pts.forEach(p => {
    d += 'L' + xs(p[0]).toFixed(1) + ' ' + ys(py).toFixed(1) + 'L' + xs(p[0]).toFixed(1) + ' ' + ys(p[1]).toFixed(1);
    py = p[1];
  });
  d += 'L' + xs(1).toFixed(1) + ' ' + ys(py).toFixed(1);
  return d;
}
function polyPath(pts, xs, ys) {
  return pts.map((p, i) => (i ? 'L' : 'M') + xs(p[0]).toFixed(1) + ' ' + ys(p[1]).toFixed(1)).join('');
}

/* ---------- Panel A ---------- */
(function () {
  const box = { l: 93.5, r: 1276.5, t: 67.5, b: 758 };
  const xs = scale(-3, 3, 148.4, 1223);
  const ys = scale(0.2, 0.8, 717.7, 93.7);
  const g = make('g', {});
  
  
  const step = 6 / (cvMeanMse.length - 1);
  cvMeanMse.forEach((v, i) => {
    const e = cvErr[i] === undefined ? 0 : cvErr[i];
    const x = xs(-3 + i * step);
    const bar = make('path', { d: 'M' + x + ' ' + ys(v - e) + 'V' + ys(v + e) + 'M' + (x - 8.5) + ' ' + ys(v - e) + 'h17M' + (x - 8.5) + ' ' + ys(v + e) + 'h17', stroke: '#d3d3d3', 'stroke-width': 3.8, fill: 'none' }, g);
    
    
  });
  cvMeanMse.forEach((v, i) => {
    const dot = make('ellipse', { cx: xs(-3 + i * step), cy: ys(v), rx: 7.6, ry: 8, fill: '#ff0000' }, g);
    
    
  });
  const best = make('line', { x1: xs(cvBestLogLambda), x2: xs(cvBestLogLambda), y1: box.t, y2: box.b, stroke: '#000', 'stroke-width': 3.4, 'stroke-dasharray': '11 5' }, g);
  
  
  spines(g, box);
  xAxis(g, cvXTicks, xs, box, 0, 20.5, 790, 8);
  yAxis(g, cvYTicks, ys, box, 1, 20.5, 78, 8);
  let t = textAt(g, 'Lasso Cross-Validation with Error Bars', 685, 56, 24, { anchor: 'middle', len: 479 });
  
  
  t = textAt(g, 'Log(lambda)', 685, 818, 21, { anchor: 'middle', len: 133 });
  
  
  t = textAt(g, 'Mean Squared Error', 32, 413, 21, { anchor: 'middle', rotate: true, len: 210 });
  
  
  t = textAt(g, 'A', 140, 158, 63, { cls: 'letter' });
  
  
  const leg = make('g', {}, g);
  
  
  const frame = make('rect', { x: 917, y: 78, width: 349, height: 68, rx: 4, fill: '#fff', 'fill-opacity': .8, stroke: '#ccc', 'stroke-width': 1.7 }, leg);
  
  
  const ls = make('line', { x1: 926, x2: 969, y1: 95, y2: 95, stroke: '#000', 'stroke-width': 3.4, 'stroke-dasharray': '11 5' }, leg);
  
  
  t = textAt(leg, 'Best alpha', 986, 102, 20.5, { len: 111 });
  
  
  const eb = make('path', { d: 'M947 115V139M940 115h14M940 139h14', stroke: '#d3d3d3', 'stroke-width': 3.8, fill: 'none' }, leg);
  
  
  const md = make('ellipse', { cx: 947, cy: 127, rx: 7.6, ry: 8, fill: '#ff0000' }, leg);
  
  
  t = textAt(leg, 'Mean MSE with error bars', 986, 134, 20.5, { len: 272 });
  
  
})();

/* ---------- Panel B ---------- */
(function () {
  const box = { l: 1398, r: 2600, t: 44, b: 745.6 };
  const xs = scale(-3, 0, 1453, 2545.7);
  const ys = scale(-0.4, 0.6, 739, 55.7);
  const g = make('g', {});
  
  
  let colorIndex = 0;
  fanCoefs.forEach(row => {
    const p = make('path', { d: smoothPath(coarseGrid, row, xs, ys), fill: 'none', stroke: tab10[colorIndex++ % 10], 'stroke-width': 3.3 }, g);
    
    
  });
  const highlights = [
    [hlBlueNeg,0],[hlOrangeNeg,1],[hlGreenBand,2],[hlRedHump,3],[hlPurpleTop,4],[hlBrownNeg,5],[hlPinkBand,6],[hlGrayNeg,7],[hlOliveCross,8],[hlCyanNeg,9],
    [hlBlueFall,0],[hlOrangeDip,1],[hlGreenFall,2],[hlRedNeg,3],[hlPurpleNeg,4],[hlBrown,5],[hlPink,6],[hlGray,7],[hlOlive,8],[hlCyan,9],
    [hlPurpleTail,4],[hlBlueTail,0],[hlGreenTail,2],[hlOrangeTail,1],[hlRedTail,3],
    [hlBlueHigh,0],[hlOrangeTop,1],[hlGreen,2],[hlOrangeBand,1],[hlPurpleSurvivor,4],[hlCyanTail,9],[hlZero,6]
  ];
  highlights.forEach(h => {
    const p = make('path', { d: smoothPath(fineGrid, h[0], xs, ys), fill: 'none', stroke: tab10[h[1]], 'stroke-width': 3.3 }, g);
    
    
  });
  const best = make('line', { x1: xs(pathBestLogLambda), x2: xs(pathBestLogLambda), y1: 49, y2: box.b, stroke: '#ff0000', 'stroke-width': 3.6, 'stroke-dasharray': '11 5' }, g);
  
  
  spines(g, box);
  xAxis(g, pathXTicks, xs, box, 1, 22, 778, 8);
  yAxis(g, pathYTicks, ys, box, 1, 22, 1384, 8);
  let t = textAt(g, 'Lasso Coefficient Paths', 1999, 31, 24, { anchor: 'middle', len: 298 });
  
  
  t = textAt(g, 'Log(Lambda)', 1999, 808, 21, { anchor: 'middle', len: 139 });
  
  
  t = textAt(g, 'Coefficients', 1319, 396.5, 21, { anchor: 'middle', rotate: true, len: 127 });
  
  
  t = textAt(g, 'B', 1448, 141, 63, { cls: 'letter' });
  
  
  const leg = make('g', {}, g);
  
  
  const frame = make('rect', { x: 2397, y: 55, width: 191, height: 38, rx: 4, fill: '#fff', 'fill-opacity': .8, stroke: '#ccc', 'stroke-width': 1.7 }, leg);
  
  
  const ls = make('line', { x1: 2407, x2: 2451, y1: 73, y2: 73, stroke: '#ff0000', 'stroke-width': 3.6, 'stroke-dasharray': '11 5' }, leg);
  
  
  t = textAt(leg, 'Best alpha', 2466, 80, 20.5, { len: 113 });
  
  
})();

/* ---------- Panels C and D ---------- */
function drawRoc(cfg) {
  const box = cfg.box;
  const xs = scale(0, 1, box.l, box.r);
  const ys = scale(0, 1, box.b, box.t);
  const g = make('g', {});
  
  
  rocTicks.forEach(v => {
    const gx = make('line', { x1: xs(v), x2: xs(v), y1: box.t, y2: box.b, stroke: '#b0b0b0', 'stroke-width': 2 }, g);
    
    
    const gy = make('line', { x1: box.l, x2: box.r, y1: ys(v), y2: ys(v), stroke: '#b0b0b0', 'stroke-width': 2 }, g);
    
    
  });
  cfg.series.forEach((s, i) => {
    const d = i === 0 ? polyPath(s, xs, ys) : stepPath(s, xs, ys);
    const p = make('path', { d: d, fill: 'none', stroke: tab10[i], 'stroke-width': 3.1, 'stroke-linejoin': 'round' }, g);
    
    
  });
  const diag = make('path', { d: polyPath([[0, 0], [1, 1]], xs, ys), stroke: '#000080', 'stroke-width': 3.2, 'stroke-dasharray': '10 4.2', fill: 'none' }, g);
  
  
  spines(g, box);
  xAxis(g, rocTicks, xs, box, 1, 18.5, cfg.xTickY, 7);
  yAxis(g, rocTicks, ys, box, 1, 18.5, cfg.yTickRight, 7);
  let t = textAt(g, cfg.title, cfg.titleX, cfg.titleY, 21, { anchor: 'middle', len: cfg.titleLen });
  
  
  t = textAt(g, 'False Positive Rate', cfg.xLabelX, cfg.xLabelY, 18, { anchor: 'middle', len: 165 });
  
  
  t = textAt(g, 'True Positive Rate', cfg.yLabelX, cfg.yLabelY, 18, { anchor: 'middle', rotate: true, len: 158 });
  
  
  t = textAt(g, cfg.letter, cfg.letterX, cfg.letterY, 63, { cls: 'letter' });
  
  
  const lg = cfg.legend;
  const leg = make('g', {}, g);
  
  
  const frame = make('rect', { x: lg.x, y: lg.y, width: lg.w, height: lg.h, rx: 4, fill: '#fff', 'fill-opacity': .8, stroke: '#ccc', 'stroke-width': 1.7 }, leg);
  
  
  cfg.labels.forEach((label, i) => {
    const y = lg.row0 + i * lg.step;
    const a = { x1: lg.x1, x2: lg.x2, y1: y, y2: y, stroke: i === 9 ? '#000080' : tab10[i], 'stroke-width': 3.1 };
    if (i === 9) a['stroke-dasharray'] = '10 4.2';
    const sw = make('line', a, leg);
    
    
    const txt = textAt(leg, label, lg.tx, y + lg.size * 0.36, lg.size, { len: cfg.widths[i] });
    
    
  });
}
drawRoc({
  name: 'panel-c-roc', letter: 'C', letterX: 124, letterY: 1017,
  box: { l: 78, r: 1270, t: 923.5, b: 1697 },
  series: [cOriginal4, cOriginal10, cLogSigma29, cLogSigma91, cLlh37, cLhl37, cLhh51, cHll8, cHlh14],
  title: 'ROC Curve for Each Feature', titleX: 674.5, titleY: 912, titleLen: 297,
  xLabelX: 674.5, xLabelY: 1747, yLabelX: 27, yLabelY: 1310,
  xTickY: 1724, yTickRight: 68,
  labels: cLegendLabels, widths: cLegendWidths,
  legend: { x: 851, y: 1421, w: 410, h: 267, row0: 1435.3, step: 26.2, x1: 856, x2: 894, tx: 907.7, size: 18 }
});
drawRoc({
  name: 'panel-d-roc-inverted', letter: 'D', letterX: 1486, letterY: 1004,
  box: { l: 1436.6, r: 2631.6, t: 913.8, b: 1690 },
  series: [dOriginal4, dOriginal10, dLogSigma29, dLogSigma91, dLlh37, dLhl37, dLhh51, dHll8, dHlh14],
  title: 'ROC Curve for Each Feature (Inverted Labels)', titleX: 2035, titleY: 904, titleLen: 488,
  xLabelX: 2034, xLabelY: 1741, yLabelX: 1386, yLabelY: 1302,
  xTickY: 1718, yTickRight: 1426.5,
  labels: dLegendLabels, widths: dLegendWidths,
  legend: { x: 2253, y: 1440.5, w: 370, h: 240.5, row0: 1454, step: 23.67, x1: 2260, x2: 2294, tx: 2305, size: 16.5 }
});
</script>
</body>
</html>
